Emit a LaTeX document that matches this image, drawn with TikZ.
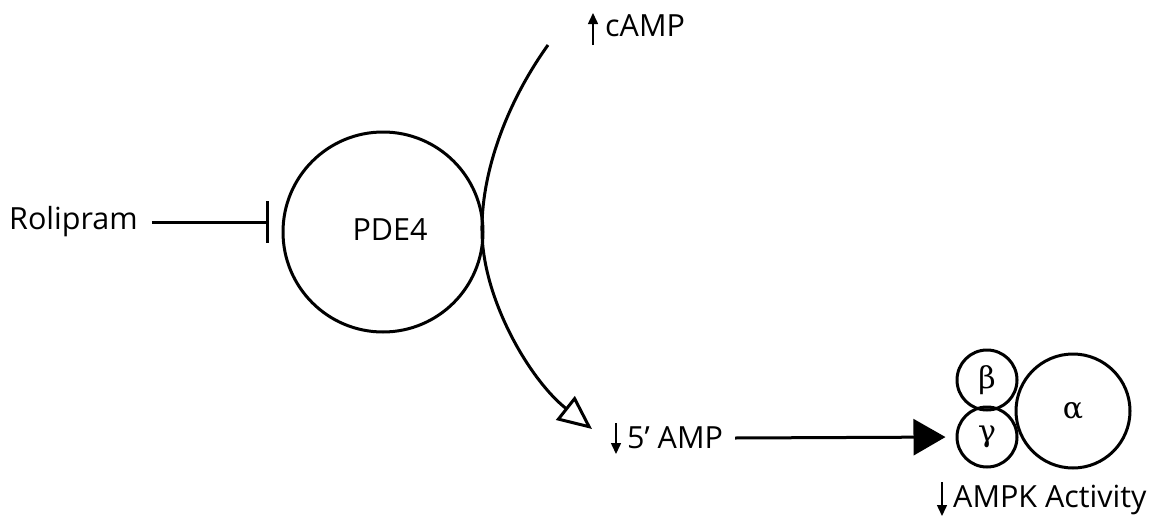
\documentclass[tikz,border=0pt]{standalone}
\usepackage{fontspec}
\setmainfont{Open Sans}
\newfontfamily\grkfont{DejaVu Serif}
\usetikzlibrary{arrows.meta}
\begin{document}
\begin{tikzpicture}[x=1pt,y=-1pt,
  lbl/.style={font=\fontsize{30.5}{34}\selectfont, inner sep=0pt, anchor=west},
  ring/.style={draw, line width=3pt, circle, inner sep=0pt},
  conn/.style={line width=3pt},
  small/.style={line width=1.5pt, -{Triangle[length=11pt,width=10pt]}},
  greek/.style={font=\grkfont\fontsize{30}{32}\selectfont}
]
\useasboundingbox (0,0) rectangle (1165,525);
% PDE4
\node[ring, minimum size=200pt] (pde4) at (383,232) {};
\node[lbl, anchor=center] (pde4lbl) at (390,230) {PDE4};
% Rolipram
\node[lbl] (rol) at (9,222) {Rolipram};
\draw[conn, -{Bar[width=42pt,line width=3pt]}] (rol.east) ++(14,0) coordinate (rolend) -- (rolend -| 269,0);
% cAMP
\coordinate (cs) at (593,45);
\coordinate (ce) at (593,13);
\draw[small] (cs) -- (ce);
\node[lbl] (camp) at (605,26) {cAMP};
% curve
\coordinate (cv0) at (548,45);
\coordinate (cvm) at (482,232);
\coordinate (cv1) at (592,429);
\draw[conn, -{Triangle[open,length=34pt,width=30pt,line width=3pt]}]
  (cv0) .. controls (505,105) and (481,175) .. (cvm)
        .. controls (483,300) and (530,380) .. (cv1);
% 5' AMP
\coordinate (as) at (616,423);
\coordinate (ae) at (616,454);
\draw[small] (as) -- (ae);
\node[lbl] (amp) at (627,438) {5’ AMP};
% AMPK
\node[ring, minimum size=60pt] (beta) at (987,380) {};
\node[ring, minimum size=60pt] (gamma) at (987,437) {};
\node[ring, minimum size=114pt] (alpha) at (1073,411) {};
\node[greek] (betalbl) at (beta.center) {β};
\node[greek] (gammalbl) at (gamma.center) {γ};
\node[greek] (alphalbl) at (alpha.center) {α};
\draw[conn, shorten >=10pt, -{Triangle[length=32pt,width=36pt]}] (amp.east) ++(12,0) coordinate (ampend) -- (gamma.west);
% AMPK activity
\coordinate (ks) at (942,482);
\coordinate (ke) at (942,516);
\draw[small] (ks) -- (ke);
\node[lbl] (ampk) at (953,500) {AMPK Activity};
\end{tikzpicture}
\end{document}
